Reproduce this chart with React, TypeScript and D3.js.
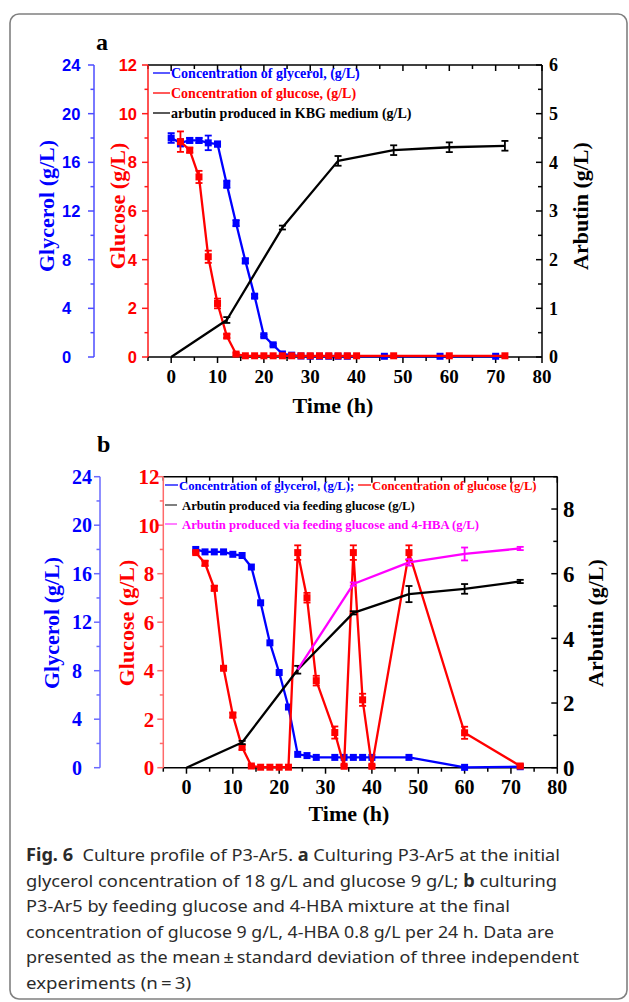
import React from 'react';
import * as d3 from 'd3';

// panel a: batch culture in KBG medium
const aGlyTime = [0, 2, 4, 6, 8, 10, 12, 14, 16, 18, 20, 22, 24, 26, 28, 30, 32, 34, 36, 38, 46, 58, 70];
const aGlyVal = [18.0, 17.6, 17.8, 17.8, 17.6, 17.5, 14.2, 11.0, 7.9, 5.0, 1.75, 1.0, 0.25, 0.15, 0.08, 0.06, 0.06, 0.06, 0.06, 0.06, 0.06, 0.06, 0.06];
const aGlyErr = [0.4, 0.3, 0.2, 0.2, 0.6, 0.2, 0.3, 0.25, 0.2, 0.15, 0.1, 0.1, 0.05, 0.05, 0, 0, 0, 0, 0, 0, 0, 0, 0];

const aGluTime = [2, 4, 6, 8, 10, 12, 14, 16, 18, 20, 22, 24, 26, 28, 30, 32, 34, 36, 38, 40, 48, 60, 72];
const aGluVal = [8.85, 8.5, 7.4, 4.12, 2.2, 0.86, 0.12, 0.05, 0.05, 0.05, 0.05, 0.05, 0.05, 0.05, 0.05, 0.05, 0.05, 0.05, 0.05, 0.05, 0.05, 0.05, 0.05];
const aGluErr = [0.42, 0.1, 0.25, 0.25, 0.2, 0.08, 0.05, 0, 0, 0, 0, 0, 0, 0, 0, 0, 0, 0, 0, 0, 0, 0, 0];

const aArbTime = [0, 12, 24, 36, 48, 60, 72];
const aArbVal = [0, 0.76, 2.66, 4.03, 4.25, 4.31, 4.34];
const aArbErr = [0, 0.06, 0.04, 0.1, 0.1, 0.1, 0.1];

// panel b: fed-batch with glucose / glucose + 4-HBA
const bGlyTime = [2, 4, 6, 8, 10, 12, 14, 16, 18, 20, 22, 24, 26, 28, 32, 34, 36, 38, 40, 48, 60, 72];
const bGlyVal = [18.0, 17.8, 17.8, 17.8, 17.6, 17.5, 16.55, 13.6, 10.3, 7.85, 5.0, 1.1, 1.0, 0.85, 0.85, 0.85, 0.85, 0.85, 0.85, 0.85, 0.03, 0.08];

const bGluTime = [2, 4, 6, 8, 10, 12, 14, 16, 18, 20, 22, 24, 26, 28, 32, 34, 36, 38, 40, 48, 60, 72];
const bGluVal = [8.87, 8.43, 7.4, 4.1, 2.17, 0.84, 0.07, 0.02, 0.02, 0.02, 0.02, 8.87, 7.01, 3.59, 1.45, 0.06, 8.87, 2.8, 0.06, 8.87, 1.44, 0.07];
const bGluErr = [0.05, 0.1, 0.1, 0.05, 0.1, 0.1, 0.05, 0, 0, 0, 0, 0.3, 0.2, 0.2, 0.25, 0.05, 0.3, 0.25, 0.05, 0.3, 0.25, 0.05];

const bArbTime = [0, 12, 24, 36, 48, 60, 72];
const bArbVal = [0, 0.78, 3.03, 4.79, 5.37, 5.53, 5.76];
const bArbErr = [0, 0.05, 0.12, 0.05, 0.25, 0.15, 0.05];

const bHbaTime = [24, 36, 48, 60, 72];
const bHbaVal = [3.03, 5.68, 6.35, 6.61, 6.78];
const bHbaErr = [0, 0.05, 0.1, 0.2, 0.05];

const captionLines = [
  [{ t: 'Fig. 6', b: true }, { t: '  Culture profile of P3-Ar5. ' }, { t: 'a', b: true }, { t: ' Culturing P3-Ar5 at the initial' }],
  [{ t: 'glycerol concentration of 18 g/L and glucose 9 g/L; ' }, { t: 'b', b: true }, { t: ' culturing' }],
  [{ t: 'P3-Ar5 by feeding glucose and 4-HBA mixture at the final' }],
  [{ t: 'concentration of glucose 9 g/L, 4-HBA 0.8 g/L per 24 h. Data are' }],
  [{ t: 'presented as the mean\u2009\u00b1\u2009standard deviation of three independent' }],
  [{ t: 'experiments (n\u2009=\u20093)' }],
];
const captionWidths = [534, 531, 484, 528, 553, 165];

const SERIF = '"Liberation Serif", "Times New Roman", serif';
const SANS = '"Liberation Sans", Arial, sans-serif';
const BLUE = '#0000ff';
const RED = '#ff0000';
const MAG = '#ff00ff';

type Lab = { x: number; anchor: string; font: string; size: number };
type Series = { t: number[]; v: number[]; e: number[] | null; color: string; axis: 'gly' | 'glu' | 'arb'; marker: boolean };
type PanelDef = {
  left: number; right: number; top: number; bottom: number; glyX: number;
  arbMax: number; arbMajor: number[]; arbMinor: number[];
  glyAxisColor: string; gluAxisColor: string;
  glyLab: Lab; gluLab: Lab; arbLab: Lab;
  xLabSize: number; xLabY: number; xTitleX: number; xTitleY: number;
  glyTitleX: number; gluTitleX: number; arbTitleX: number; titleY: number;
  series: Series[];
};

const Panel = ({ d }: { d: PanelDef }) => {
  const x = d3.scaleLinear().domain([-5, 80]).range([d.left, d.right]);
  const yGly = d3.scaleLinear().domain([0, 24]).range([d.bottom, d.top]);
  const yGlu = d3.scaleLinear().domain([0, 12]).range([d.bottom, d.top]);
  const yArb = d3.scaleLinear().domain([0, d.arbMax]).range([d.bottom, d.top]);
  const yOf = { gly: yGly, glu: yGlu, arb: yArb };
  const xTicks = d3.range(-5, 81, 5);

  return (
    <g>
      {/* plot frame */}
      <line x1={d.left} x2={d.right} y1={d.top} y2={d.top} stroke="#000" strokeWidth={1.5} />
      <line x1={d.right} x2={d.right} y1={d.top} y2={d.bottom} stroke="#000" strokeWidth={1.5} />
      <line x1={d.left} x2={d.right} y1={d.bottom} y2={d.bottom} stroke="#000" strokeWidth={1.5} />
      {xTicks.map((t) => {
        const len = t % 10 === 0 ? 6 : 4;
        return (
          <g key={'xt' + t}>
            <line x1={x(t)} x2={x(t)} y1={d.bottom} y2={d.bottom + len} stroke="#000" strokeWidth={1.5} />
            <line x1={x(t)} x2={x(t)} y1={d.top} y2={d.top + len} stroke="#000" strokeWidth={1.5} />
          </g>
        );
      })}
      {d3.range(0, 81, 10).map((t) => (
        <text key={'xl' + t} x={x(t)} y={d.xLabY} textAnchor="middle" fontFamily={SERIF} fontWeight="bold" fontSize={d.xLabSize}>{t}</text>
      ))}
      <text x={d.xTitleX} y={d.xTitleY} textAnchor="middle" fontFamily={SERIF} fontWeight="bold" fontSize={22}>Time (h)</text>

      {/* glycerol axis */}
      <line x1={d.glyX} x2={d.glyX} y1={d.top} y2={d.bottom} stroke={d.glyAxisColor} strokeWidth={1.5} />
      {d3.range(0, 25, 2).map((v) => (
        <line key={'gt' + v} x1={d.glyX} x2={d.glyX - (v % 4 === 0 ? 6 : 3.5)} y1={yGly(v)} y2={yGly(v)} stroke={d.glyAxisColor} strokeWidth={1.5} />
      ))}
      {d3.range(0, 25, 4).map((v) => (
        <text key={'gl' + v} x={d.glyLab.x} y={yGly(v)} dy="0.36em" textAnchor={d.glyLab.anchor as any} fontFamily={d.glyLab.font} fontWeight="bold" fontSize={d.glyLab.size} fill={BLUE}>{v}</text>
      ))}
      <text transform={`translate(${d.glyTitleX},${d.titleY}) rotate(-90)`} dy="0.35em" textAnchor="middle" fontFamily={SERIF} fontWeight="bold" fontSize={22} fill={BLUE}>Glycerol (g/L)</text>

      {/* glucose axis */}
      <line x1={d.left} x2={d.left} y1={d.top} y2={d.bottom} stroke={d.gluAxisColor} strokeWidth={1.5} />
      {d3.range(0, 13, 1).map((v) => (
        <line key={'ut' + v} x1={d.left} x2={d.left - (v % 2 === 0 ? 6 : 3.5)} y1={yGlu(v)} y2={yGlu(v)} stroke={d.gluAxisColor} strokeWidth={1.5} />
      ))}
      {d3.range(0, 13, 2).map((v) => (
        <text key={'ul' + v} x={d.gluLab.x} y={yGlu(v)} dy="0.36em" textAnchor={d.gluLab.anchor as any} fontFamily={d.gluLab.font} fontWeight="bold" fontSize={d.gluLab.size} fill={RED}>{v}</text>
      ))}
      <text transform={`translate(${d.gluTitleX},${d.titleY}) rotate(-90)`} dy="0.35em" textAnchor="middle" fontFamily={SERIF} fontWeight="bold" fontSize={22} fill={RED}>Glucose (g/L)</text>

      {/* arbutin axis (right, inward ticks) */}
      {d.arbMinor.map((v) => (
        <line key={'am' + v} x1={d.right} x2={d.right - 4} y1={yArb(v)} y2={yArb(v)} stroke="#000" strokeWidth={1.5} />
      ))}
      {d.arbMajor.map((v) => (
        <g key={'aM' + v}>
          <line x1={d.right} x2={d.right - 6} y1={yArb(v)} y2={yArb(v)} stroke="#000" strokeWidth={1.5} />
          <text x={d.arbLab.x} y={yArb(v)} dy="0.36em" textAnchor={d.arbLab.anchor as any} fontFamily={d.arbLab.font} fontWeight="bold" fontSize={d.arbLab.size}>{v}</text>
        </g>
      ))}
      <text transform={`translate(${d.arbTitleX},${d.titleY}) rotate(-90)`} dy="0.35em" textAnchor="middle" fontFamily={SERIF} fontWeight="bold" fontSize={22}>Arbutin (g/L)</text>

      {/* data */}
      {d.series.map((s, si) => {
        const y = yOf[s.axis];
        const line = d3.line<number>().x((_, i) => x(s.t[i])).y((v) => y(v));
        return (
          <g key={'s' + si}>
            <path d={line(s.v) || ''} fill="none" stroke={s.color} strokeWidth={2.3} strokeLinejoin="round" />
            {s.marker && s.v.map((v, i) => (
              <rect key={'m' + i} x={x(s.t[i]) - 3.5} y={y(v) - 3.5} width={7} height={7} fill={s.color} />
            ))}
            {s.e && s.e.map((e, i) => e > 0 ? (
              <g key={'e' + i} stroke={s.color} strokeWidth={1.8}>
                <line x1={x(s.t[i])} x2={x(s.t[i])} y1={y(s.v[i] - e)} y2={y(s.v[i] + e)} />
                <line x1={x(s.t[i]) - 3.5} x2={x(s.t[i]) + 3.5} y1={y(s.v[i] - e)} y2={y(s.v[i] - e)} />
                <line x1={x(s.t[i]) - 3.5} x2={x(s.t[i]) + 3.5} y1={y(s.v[i] + e)} y2={y(s.v[i] + e)} />
              </g>
            ) : null)}
          </g>
        );
      })}
    </g>
  );
};

const panelA: PanelDef = {
  left: 148, right: 542, top: 65, bottom: 357, glyX: 94,
  arbMax: 6, arbMajor: d3.range(0, 7, 1), arbMinor: d3.range(0.5, 6, 1),
  glyAxisColor: '#4d4dff', gluAxisColor: '#ff1a1a',
  glyLab: { x: 62, anchor: 'start', font: SANS, size: 16.5 },
  gluLab: { x: 137, anchor: 'end', font: SANS, size: 16.5 },
  arbLab: { x: 549, anchor: 'start', font: SERIF, size: 18 },
  xLabSize: 19, xLabY: 383, xTitleX: 333, xTitleY: 413,
  glyTitleX: 46, gluTitleX: 117, arbTitleX: 580, titleY: 206,
  series: [
    { t: aGlyTime, v: aGlyVal, e: aGlyErr, color: BLUE, axis: 'gly', marker: true },
    { t: aGluTime, v: aGluVal, e: aGluErr, color: RED, axis: 'glu', marker: true },
    { t: aArbTime, v: aArbVal, e: aArbErr, color: '#000', axis: 'arb', marker: false },
  ],
};

const panelB: PanelDef = {
  left: 163.3, right: 557.3, top: 476.7, bottom: 767.7, glyX: 100,
  arbMax: 9, arbMajor: d3.range(0, 9, 2), arbMinor: d3.range(1, 10, 2),
  glyAxisColor: '#6a6aff', gluAxisColor: '#ff6a6a',
  glyLab: { x: 72, anchor: 'start', font: SERIF, size: 20 },
  gluLab: { x: 149, anchor: 'middle', font: SERIF, size: 21 },
  arbLab: { x: 563, anchor: 'start', font: SERIF, size: 23 },
  xLabSize: 20, xLabY: 794, xTitleX: 349, xTitleY: 821,
  glyTitleX: 51, gluTitleX: 126, arbTitleX: 595, titleY: 623,
  series: [
    { t: bGlyTime, v: bGlyVal, e: null, color: BLUE, axis: 'gly', marker: true },
    { t: bGluTime, v: bGluVal, e: bGluErr, color: RED, axis: 'glu', marker: true },
    { t: bArbTime, v: bArbVal, e: bArbErr, color: '#000', axis: 'arb', marker: false },
    { t: bHbaTime, v: bHbaVal, e: bHbaErr, color: MAG, axis: 'arb', marker: false },
  ],
};

export default function App() {
  const leg = { fontFamily: SERIF, fontWeight: 'bold' as const };
  return (
    <div style={{ position: 'absolute', left: 0, top: 0 }}>
      <svg width={629} height={1002} style={{ display: 'block', background: '#fff' }}>
        <rect x={10} y={14} width={617} height={985} rx={9} fill="none" stroke="#808080" strokeWidth={1.6} />

        <text x={96} y={50} fontFamily={SERIF} fontWeight="bold" fontSize={24}>a</text>
        <Panel d={panelA} />
        <g {...leg} fontSize={14}>
          <line x1={153} x2={170} y1={73} y2={73} stroke={BLUE} strokeWidth={1.3} />
          <text x={171} y={77.5} fill={BLUE}>Concentration of glycerol, (g/L)</text>
          <line x1={153} x2={170} y1={93} y2={93} stroke={RED} strokeWidth={1.3} />
          <text x={171} y={97.5} fill={RED}>Concentration of glucose, (g/L)</text>
          <line x1={153} x2={170} y1={113} y2={113} stroke="#000" strokeWidth={1.3} />
          <text x={171} y={117.5} fill="#000">arbutin produced in KBG medium (g/L)</text>
        </g>

        <text x={97} y={452} fontFamily={SERIF} fontWeight="bold" fontSize={24}>b</text>
        <Panel d={panelB} />
        <g {...leg} fontSize={12.7}>
          <line x1={165} x2={178} y1={485} y2={485} stroke={BLUE} strokeWidth={1.3} />
          <text x={179} y={489.5} fill={BLUE}>Concentration of glycerol, (g/L);</text>
          <line x1={358} x2={371} y1={485} y2={485} stroke={RED} strokeWidth={1.3} />
          <text x={372} y={489.5} fill={RED}>Concentration of glucose  (g/L)</text>
          <line x1={165} x2={177} y1={505} y2={505} stroke="#808080" strokeWidth={2} />
          <text x={182} y={509.5} fill="#000">Arbutin produced via feeding glucose (g/L)</text>
          <line x1={165} x2={177} y1={524} y2={524} stroke="#ff80ff" strokeWidth={2} />
          <text x={182} y={528.5} fill={MAG}>Arbutin produced via feeding glucose and 4-HBA (g/L)</text>
        </g>

        {captionLines.map((segs, i) => (
          <text key={'c' + i} x={26} y={861 + i * 25.5} fontFamily='"Noto Sans", "Open Sans", sans-serif' fontSize={17} fill="#2b2b2b"
            textLength={captionWidths[i]} lengthAdjust="spacingAndGlyphs" style={{ whiteSpace: 'pre' }}>
            {segs.map((s, j) => (
              <tspan key={j} fontWeight={s.b ? 'bold' : 'normal'}>{s.t}</tspan>
            ))}
          </text>
        ))}
      </svg>
    </div>
  );
}
